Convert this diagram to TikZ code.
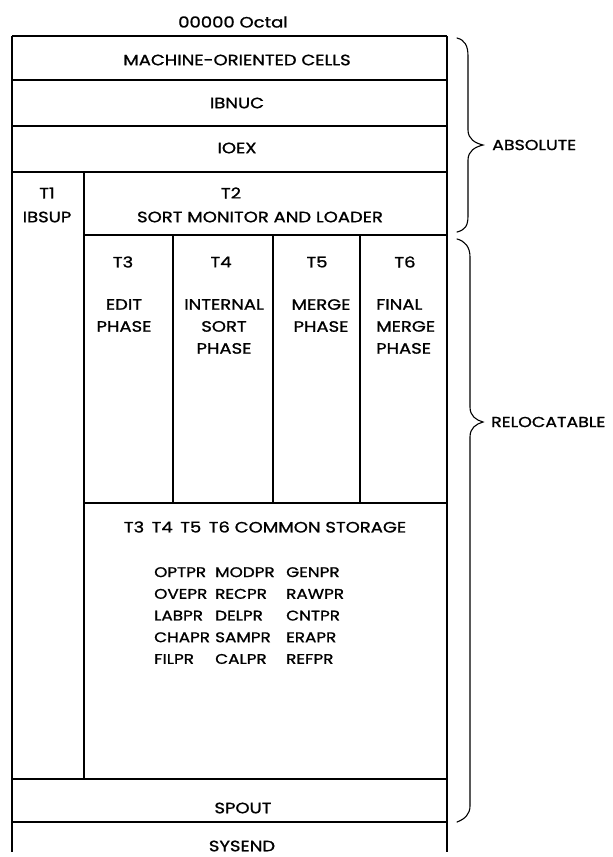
\documentclass[tikz,border=0pt]{standalone}
\usepackage{fontspec}
\setmainfont{Poppins}[FakeStretch=1.2,FakeBold=1.2]
\usetikzlibrary{positioning}

\begin{document}
\begin{tikzpicture}[x=1pt,y=-1pt,
  every node/.style={font=\fontsize{15}{22}\selectfont,inner sep=0pt},
  rule/.style={line width=1.5pt},
  wall/.style={line width=1.1pt},
  brace/.style={line width=1.1pt,line cap=round},
  label/.style={align=center},
  side/.style={anchor=west,font=\fontsize{14.5}{18}\selectfont},
  listcol/.style={align=left,anchor=north west,font=\fontsize{14}{21.7}\selectfont}]

\useasboundingbox (0,0) rectangle (613,857);

% x positions of the walls
\def\xl{12}
\def\xs{84}
\def\xa{173}
\def\xb{273}
\def\xc{360}
\def\xr{447}

% y positions of the partitions
\def\ytop{36}
\def\ya{80}
\def\yb{126}
\def\yc{172}
\def\yd{235}
\def\ye{503}
\def\yf{779}
\def\yg{822}
\def\ybot{852}

% outer walls
\draw[wall] (\xl,\ytop) -- (\xl,\ybot);
\draw[wall] (\xr,\ytop) -- (\xr,\ybot);

% full width partitions
\foreach \yy in {\ytop,\ya,\yb,\yc,\yf,\yg}{
  \draw[rule] (\xl,\yy) -- (\xr,\yy);
}

% inner partitions
\draw[rule] (\xs,\yd) -- (\xr,\yd);
\draw[rule] (\xs,\ye) -- (\xr,\ye);
\draw[wall] (\xs,\yc) -- (\xs,\yf);
\foreach \xx in {\xa,\xb,\xc}{
  \draw[wall] (\xx,\yd) -- (\xx,\ye);
}

% area labels
\node (octal) at (233,22) {00000 Octal};
\node (cells) at (237,60) {MACHINE-ORIENTED CELLS};
\node (nuc) at (237,103) {IBNUC};
\node (ioex) at (237,148) {IOEX};
\node (tone) at (47,193) {T1};
\node (sup) at (47,217) {IBSUP};
\node (ttwo) at (231,193) {T2};
\node (mon) at (260,217) {SORT MONITOR AND LOADER};

% overlay phases
\node (tthree) at (123,262) {T3};
\node (tfour) at (221,262) {T4};
\node (tfive) at (317,262) {T5};
\node (tsix) at (405,262) {T6};
\node[label,anchor=north] (edit) at (124,299) {EDIT\\PHASE};
\node[label,anchor=north] (sort) at (224,299) {INTERNAL\\SORT\\PHASE};
\node[label,anchor=north] (merge) at (321,299) {MERGE\\PHASE};
\node[align=left,anchor=north west] (final) at (376,299) {FINAL\\MERGE\\PHASE};

% common storage
\node (common) at (265,527) {T3\hspace{0.5em}T4\hspace{0.5em}T5\hspace{0.5em}T6 COMMON STORAGE};
\node[listcol] (listA) at (154,567) {OPTPR\\OVEPR\\LABPR\\CHAPR\\FILPR};
\node[listcol] (listB) at (215,567) {MODPR\\RECPR\\DELPR\\SAMPR\\CALPR};
\node[listcol] (listC) at (286,567) {GENPR\\RAWPR\\CNTPR\\ERAPR\\REFPR};

\node (spout) at (243,808) {SPOUT};
\node (sysend) at (242,846) {SYSEND};

% braces
\coordinate (abstip) at (483,145);
\coordinate (reltip) at (483,422);
\draw[brace] (457,38) .. controls (465,40) and (468,46) .. (468,56)
  -- (468,130) .. controls (468,139) and (475,143) .. (abstip)
  .. controls (475,147) and (468,151) .. (468,160)
  -- (468,216) .. controls (468,226) and (465,230) .. (457,232);
\draw[brace] (457,239) .. controls (465,241) and (470,247) .. (470,257)
  -- (470,407) .. controls (470,416) and (476,420) .. (reltip)
  .. controls (476,424) and (470,428) .. (470,437)
  -- (470,806) .. controls (470,814) and (465,819) .. (457,822);
\node[side,right=9pt of abstip] (abs) {ABSOLUTE};
\node[side,right=8pt of reltip] (rel) {RELOCATABLE};

\end{tikzpicture}
\end{document}
